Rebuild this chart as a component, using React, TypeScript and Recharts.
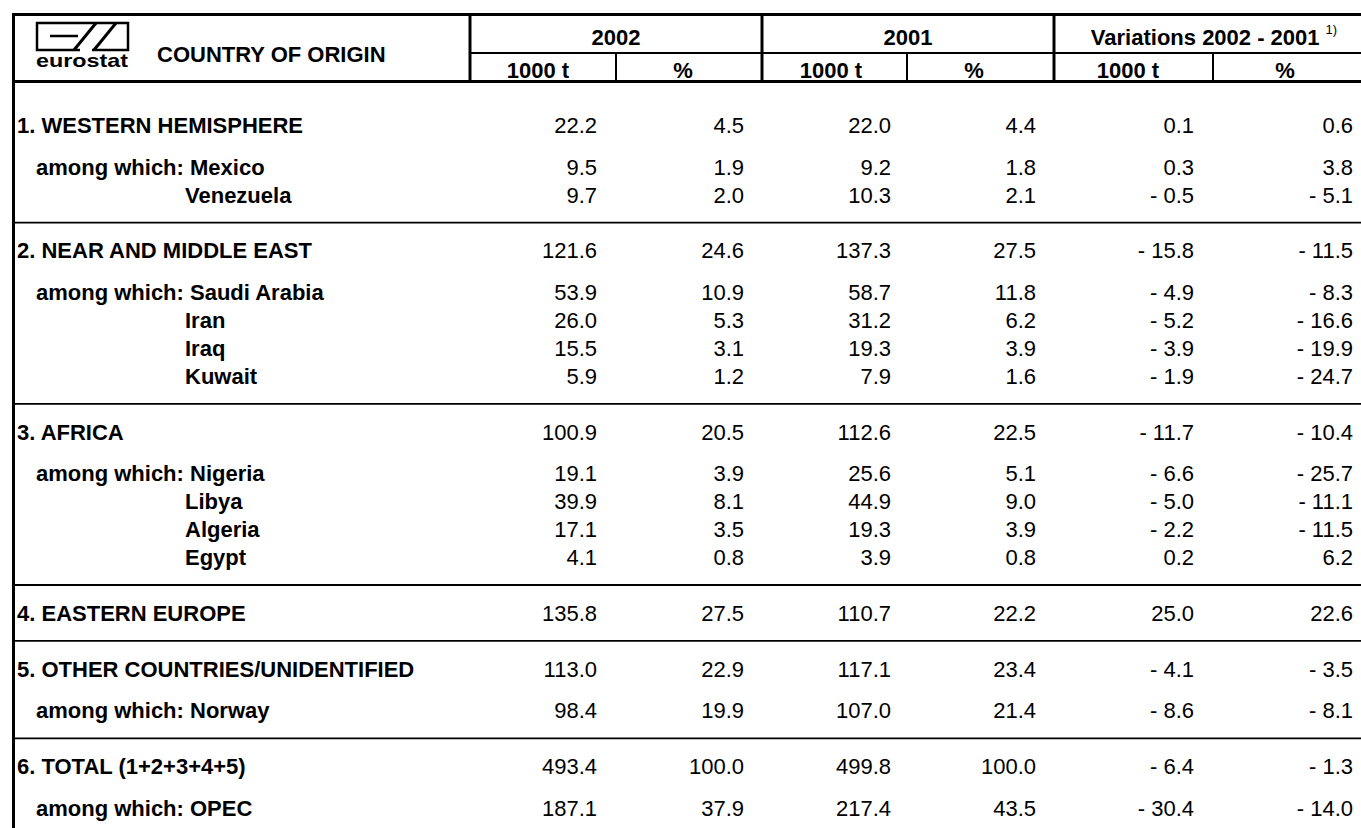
import { ReferenceLine, Scatter, ScatterChart, XAxis, YAxis } from "recharts";

const W = 1361;
const H = 828;
const FONT = "'Liberation Sans', Arial, Helvetica, sans-serif";

// rows as printed; a leading "n." marks a region total, the rest are "among which" countries
const ROW_LABELS = [
  "1. WESTERN HEMISPHERE",
  "Mexico",
  "Venezuela",
  "2. NEAR AND MIDDLE EAST",
  "Saudi Arabia",
  "Iran",
  "Iraq",
  "Kuwait",
  "3. AFRICA",
  "Nigeria",
  "Libya",
  "Algeria",
  "Egypt",
  "4. EASTERN EUROPE",
  "5. OTHER COUNTRIES/UNIDENTIFIED",
  "Norway",
  "6. TOTAL (1+2+3+4+5)",
  "OPEC",
];

const T_2002 = [22.2, 9.5, 9.7, 121.6, 53.9, 26.0, 15.5, 5.9, 100.9, 19.1, 39.9, 17.1, 4.1, 135.8, 113.0, 98.4, 493.4, 187.1];
const PCT_2002 = [4.5, 1.9, 2.0, 24.6, 10.9, 5.3, 3.1, 1.2, 20.5, 3.9, 8.1, 3.5, 0.8, 27.5, 22.9, 19.9, 100.0, 37.9];
const T_2001 = [22.0, 9.2, 10.3, 137.3, 58.7, 31.2, 19.3, 7.9, 112.6, 25.6, 44.9, 19.3, 3.9, 110.7, 117.1, 107.0, 499.8, 217.4];
const PCT_2001 = [4.4, 1.8, 2.1, 27.5, 11.8, 6.2, 3.9, 1.6, 22.5, 5.1, 9.0, 3.9, 0.8, 22.2, 23.4, 21.4, 100.0, 43.5];
const VAR_T = [0.1, 0.3, -0.5, -15.8, -4.9, -5.2, -3.9, -1.9, -11.7, -6.6, -5.0, -2.2, 0.2, 25.0, -4.1, -8.6, -6.4, -30.4];
const VAR_PCT = [0.6, 3.8, -5.1, -11.5, -8.3, -16.6, -19.9, -24.7, -10.4, -25.7, -11.1, -11.5, 6.2, 22.6, -3.5, -8.1, -1.3, -14.0];

const YEAR_HEADERS = ["2002", "2001", "Variations 2002 - 2001"];
const UNIT_HEADERS = ["1000 t", "%", "1000 t", "%", "1000 t", "%"];

const COLUMNS = [T_2002, PCT_2002, T_2001, PCT_2001, VAR_T, VAR_PCT];

// layout (px): column borders and right edge of the figures
const COL_EDGES = [13.5, 470, 616, 762, 907, 1054, 1213, W];
const NUM_RIGHT = [597, 744, 891, 1036, 1194, 1353];
const UNIT_CENTER = [538, 683, 831, 974, 1128, 1285];

// one slot = half a printed row
const UNIT = 13.94;
const ORIGIN = 125;
const toSlot = (px: number) => (px - ORIGIN) / UNIT;

const fmt = (v: number) => (v < 0 ? `- ${Math.abs(v).toFixed(1)}` : v.toFixed(1));

const slots: number[] = [];
const separators: number[] = [];
ROW_LABELS.forEach((label, i) => {
  const main = /^\d\./.test(label);
  if (i === 0) {
    slots.push(0);
    return;
  }
  const prev = slots[i - 1];
  const prevMain = /^\d\./.test(ROW_LABELS[i - 1]);
  if (main) {
    separators.push(prev + 2);
    slots.push(prev + 4);
  } else {
    slots.push(prev + (prevMain ? 3 : 2));
  }
});

type Cell = { x: number; slot: number; text: string; anchor: "start" | "middle" | "end"; bold?: boolean; sup?: string; logo?: boolean };

const labelCells: Cell[] = ROW_LABELS.map((label, i) => {
  const main = /^\d\./.test(label);
  const firstSub = !main && /^\d\./.test(ROW_LABELS[i - 1]);
  return {
    x: main ? 17 : firstSub ? 36 : 185,
    slot: slots[i],
    text: main ? label : firstSub ? `among which: ${label}` : label,
    anchor: "start",
    bold: true,
  };
});

const valueCells: Cell[][] = COLUMNS.map((values, c) =>
  values.map((v, i) => ({ x: NUM_RIGHT[c], slot: slots[i], text: fmt(v), anchor: "end" }))
);

const headerCells: Cell[] = [
  { x: 82, slot: toSlot(44), text: "", anchor: "middle", logo: true },
  { x: 157, slot: toSlot(54), text: "COUNTRY OF ORIGIN", anchor: "start", bold: true },
  ...YEAR_HEADERS.map((t, g) => ({
    x: g === 2 ? 1214 : (COL_EDGES[1 + g * 2] + COL_EDGES[3 + g * 2]) / 2,
    slot: toSlot(37),
    text: t,
    anchor: "middle" as const,
    bold: true,
    sup: g === 2 ? "1)" : undefined,
  })),
  ...UNIT_HEADERS.map((t, c) => ({ x: UNIT_CENTER[c], slot: toSlot(70.5), text: t, anchor: "middle" as const, bold: true })),
];

const Logo = ({ cx, cy }: { cx: number; cy: number }) => {
  const l = cx - 46;
  const t = cy - 22;
  return (
    <g>
      <rect x={l + 1} y={t + 1} width={91} height={27} fill="none" stroke="#000" strokeWidth={2.5} />
      <line x1={l + 14} y1={t + 14} x2={l + 42} y2={t + 14} stroke="#000" strokeWidth={2.5} />
      <line x1={l + 38} y1={t + 28} x2={l + 60} y2={t + 1} stroke="#000" strokeWidth={3} />
      <line x1={l + 58} y1={t + 28} x2={l + 80} y2={t + 1} stroke="#000" strokeWidth={3} />
      <rect x={l + 44} y={t + 26} width={12} height={4} fill="#fff" />
      <text x={l} y={t + 44.5} textLength={92} lengthAdjust="spacingAndGlyphs" fontFamily={FONT} fontSize={19} fontWeight={700} fill="#000">
        eurostat
      </text>
    </g>
  );
};

const CellText = (props: any) => {
  const { cx, cy, payload } = props;
  if (payload.logo) return <Logo cx={cx} cy={cy} />;
  return (
    <text x={cx} y={cy} dy="0.36em" textAnchor={payload.anchor} fontFamily={FONT} fontSize={22} fontWeight={payload.bold ? 700 : 400} fill="#000">
      {payload.text}
      {payload.sup && (
        <tspan dx={6} dy={-11} fontSize={13} fontWeight={400}>
          {payload.sup}
        </tspan>
      )}
    </text>
  );
};

const hLine = (y: number, x1: number, x2: number, w: number, key: string) => (
  <ReferenceLine
    key={key}
    segment={[{ x: x1, y }, { x: x2, y }]}
    stroke="#000"
    strokeWidth={w}
    ifOverflow="visible"
  />
);

const vLine = (x: number, y1: number, y2: number, w: number, key: string) => (
  <ReferenceLine
    key={key}
    segment={[{ x, y: y1 }, { x, y: y2 }]}
    stroke="#000"
    strokeWidth={w}
    ifOverflow="visible"
  />
);

export default function App() {
  const top = toSlot(14.5);
  const mid = toSlot(53);
  const bottom = toSlot(81.5);
  const end = toSlot(H);

  return (
    <div style={{ position: "absolute", left: 0, top: 0, width: W, height: H, background: "#fff" }}>
      <ScatterChart width={W} height={H} margin={{ top: 0, right: 0, bottom: 0, left: 0 }}>
        <XAxis type="number" dataKey="x" domain={[0, W]} allowDataOverflow hide />
        <YAxis type="number" dataKey="slot" domain={[toSlot(0), end]} allowDataOverflow reversed hide />

        {hLine(top, 12, W, 3, "top")}
        {hLine(mid, COL_EDGES[1], W, 2, "mid")}
        {hLine(bottom, 12, W, 3, "bottom")}
        {vLine(COL_EDGES[0], top, end, 3, "left")}
        {[1, 3, 5].map((c) => vLine(COL_EDGES[c], top, bottom, 3, `thick-${c}`))}
        {[2, 4, 6].map((c) => vLine(COL_EDGES[c], mid, bottom, 2, `thin-${c}`))}
        {separators.map((s, i) => hLine(s, 13, W, 1.8, `sep-${i}`))}

        <Scatter data={headerCells} shape={CellText} isAnimationActive={false} />
        <Scatter data={labelCells} shape={CellText} isAnimationActive={false} />
        {valueCells.map((cells, c) => (
          <Scatter key={c} data={cells} shape={CellText} isAnimationActive={false} />
        ))}
      </ScatterChart>
    </div>
  );
}
